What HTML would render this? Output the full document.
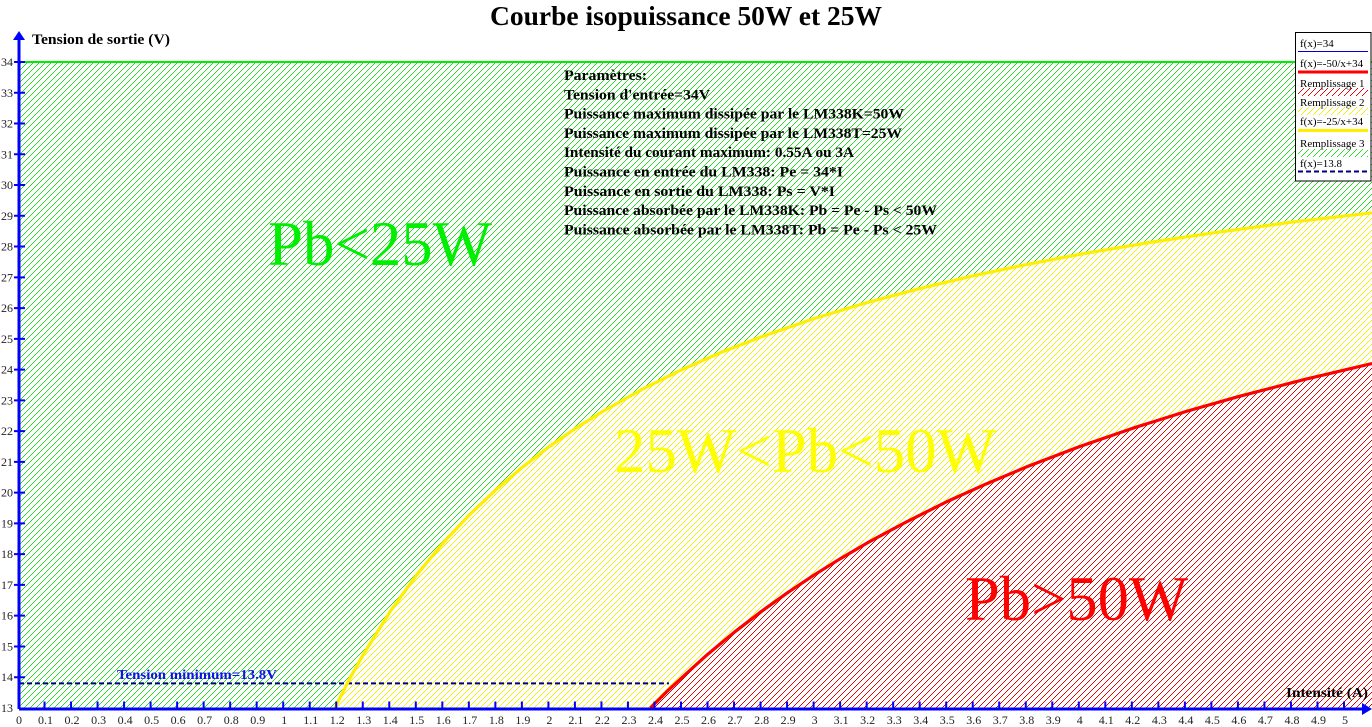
<!DOCTYPE html>
<html><head><meta charset="utf-8">
<style>
html,body{margin:0;padding:0;background:#fff;}
svg{display:block;}
text{font-family:"Liberation Serif","DejaVu Serif",serif;}
</style></head>
<body>
<svg width="1372" height="727" viewBox="0 0 1372 727" xmlns="http://www.w3.org/2000/svg">
<defs>
<pattern id="hg" x="0" y="0" width="6" height="6" patternUnits="userSpaceOnUse">
<rect x="0" y="5" width="1" height="1" fill="#22dd22"/><rect x="1" y="4" width="1" height="1" fill="#22dd22"/><rect x="2" y="3" width="1" height="1" fill="#22dd22"/><rect x="3" y="2" width="1" height="1" fill="#22dd22"/><rect x="4" y="1" width="1" height="1" fill="#22dd22"/><rect x="5" y="0" width="1" height="1" fill="#22dd22"/>
</pattern>
<pattern id="hy" x="0" y="0" width="6" height="6" patternUnits="userSpaceOnUse">
<rect x="0" y="5" width="1" height="1" fill="#f0f000"/><rect x="1" y="4" width="1" height="1" fill="#f0f000"/><rect x="2" y="3" width="1" height="1" fill="#f0f000"/><rect x="3" y="2" width="1" height="1" fill="#f0f000"/><rect x="4" y="1" width="1" height="1" fill="#f0f000"/><rect x="5" y="0" width="1" height="1" fill="#f0f000"/>
</pattern>
<pattern id="hr" x="0" y="0" width="6" height="6" patternUnits="userSpaceOnUse">
<rect x="0" y="5" width="1" height="1" fill="#e00000"/><rect x="1" y="4" width="1" height="1" fill="#e00000"/><rect x="2" y="3" width="1" height="1" fill="#e00000"/><rect x="3" y="2" width="1" height="1" fill="#e00000"/><rect x="4" y="1" width="1" height="1" fill="#e00000"/><rect x="5" y="0" width="1" height="1" fill="#e00000"/>
</pattern>
</defs>

<!-- hatched regions -->
<rect x="19" y="62" width="1353" height="646" fill="url(#hg)"/>
<path d="M334.7,708 L350.5,677.2 L363.8,653.6 L390.3,611.3 L416.8,574.7 L443.3,542.7 L469.8,514.4 L496.4,489.3 L522.9,466.8 L549.4,446.5 L575.9,428.1 L602.4,411.6 L642.2,389.3 L682,369.6 L721.8,352.1 L761.6,336.7 L814.6,318.4 L867.6,302.4 L920.7,288.3 L973.7,275.7 L1026.8,264.4 L1079.8,254.3 L1146.1,243.0 L1212.4,232.9 L1292,222.1 L1372,212.8 L1372,708 Z" fill="#ffffff"/>
<path d="M334.7,708 L350.5,677.2 L363.8,653.6 L390.3,611.3 L416.8,574.7 L443.3,542.7 L469.8,514.4 L496.4,489.3 L522.9,466.8 L549.4,446.5 L575.9,428.1 L602.4,411.6 L642.2,389.3 L682,369.6 L721.8,352.1 L761.6,336.7 L814.6,318.4 L867.6,302.4 L920.7,288.3 L973.7,275.7 L1026.8,264.4 L1079.8,254.3 L1146.1,243.0 L1212.4,232.9 L1292,222.1 L1372,212.8 L1372,708 Z" fill="url(#hy)"/>
<path d="M650.4,708 L668.7,689.8 L688.6,671.5 L708.5,653.6 L735,631.7 L761.6,611.3 L788.1,592.3 L814.6,574.7 L841.1,558.2 L867.6,542.7 L907.4,521.4 L947.2,501.5 L987,483.6 L1026.8,466.8 L1079.8,446.5 L1132.8,428.2 L1185.9,411.5 L1238.9,396.4 L1305.2,379.3 L1372,363.5 L1372,708 Z" fill="#ffffff"/>
<path d="M650.4,708 L668.7,689.8 L688.6,671.5 L708.5,653.6 L735,631.7 L761.6,611.3 L788.1,592.3 L814.6,574.7 L841.1,558.2 L867.6,542.7 L907.4,521.4 L947.2,501.5 L987,483.6 L1026.8,466.8 L1079.8,446.5 L1132.8,428.2 L1185.9,411.5 L1238.9,396.4 L1305.2,379.3 L1372,363.5 L1372,708 Z" fill="url(#hr)"/>

<!-- 13.8 dashed line -->
<line x1="19" y1="683.4" x2="669" y2="683.4" stroke="#000080" stroke-width="2" stroke-dasharray="5 3"/>
<text x="117" y="679" font-size="13.5" font-weight="bold" fill="#1010ee" textLength="160" lengthAdjust="spacingAndGlyphs">Tension minimum=13.8V</text>

<!-- curves -->
<polyline fill="none" stroke="#ffee00" stroke-width="3.2" stroke-linejoin="round" points="334.7,708 350.5,677.2 363.8,653.6 390.3,611.3 416.8,574.7 443.3,542.7 469.8,514.4 496.4,489.3 522.9,466.8 549.4,446.5 575.9,428.1 602.4,411.6 642.2,389.3 682,369.6 721.8,352.1 761.6,336.7 814.6,318.4 867.6,302.4 920.7,288.3 973.7,275.7 1026.8,264.4 1079.8,254.3 1146.1,243.0 1212.4,232.9 1292,222.1 1372,212.8"/>
<polyline fill="none" stroke="#ff0000" stroke-width="3.2" stroke-linejoin="round" points="650.4,708 668.7,689.8 688.6,671.5 708.5,653.6 735,631.7 761.6,611.3 788.1,592.3 814.6,574.7 841.1,558.2 867.6,542.7 907.4,521.4 947.2,501.5 987,483.6 1026.8,466.8 1079.8,446.5 1132.8,428.2 1185.9,411.5 1238.9,396.4 1305.2,379.3 1372,363.5"/>

<!-- green line f(x)=34 -->
<line x1="19" y1="62" x2="1372" y2="62" stroke="#00ee00" stroke-width="2"/>

<!-- axes -->
<line x1="19" y1="709" x2="1365" y2="709" stroke="#0000ff" stroke-width="3"/>
<polygon points="1372,709 1362,703 1362,715" fill="#0000ff"/>
<line x1="19" y1="709" x2="19" y2="38" stroke="#0000ff" stroke-width="3"/>
<polygon points="19,31 13,40 25,40" fill="#0000ff"/>
<!-- x ticks -->
<line x1="43.52" y1="705" x2="1347" y2="705" stroke="#0000ff" stroke-width="7" stroke-dasharray="2 24.52"/>
<!-- y ticks -->
<line x1="19.5" y1="61" x2="19.5" y2="680" stroke="#0000ff" stroke-width="11" stroke-dasharray="2 28.76"/>

<!-- y tick labels -->
<g font-size="12" fill="#222" text-anchor="end">
<text x="13" y="712">13</text>
<text x="13" y="681.2">14</text>
<text x="13" y="650.5">15</text>
<text x="13" y="619.7">16</text>
<text x="13" y="589">17</text>
<text x="13" y="558.2">18</text>
<text x="13" y="527.4">19</text>
<text x="13" y="496.7">20</text>
<text x="13" y="465.9">21</text>
<text x="13" y="435.2">22</text>
<text x="13" y="404.4">23</text>
<text x="13" y="373.6">24</text>
<text x="13" y="342.9">25</text>
<text x="13" y="312.1">26</text>
<text x="13" y="281.4">27</text>
<text x="13" y="250.6">28</text>
<text x="13" y="219.8">29</text>
<text x="13" y="189.1">30</text>
<text x="13" y="158.3">31</text>
<text x="13" y="127.6">32</text>
<text x="13" y="96.8">33</text>
<text x="13" y="66">34</text>
</g>

<!-- x tick labels -->
<g font-size="12" fill="#222" text-anchor="middle">
<text x="19" y="724">0</text>
<text x="45.5" y="724">0.1</text>
<text x="72" y="724">0.2</text>
<text x="98.6" y="724">0.3</text>
<text x="125.1" y="724">0.4</text>
<text x="151.6" y="724">0.5</text>
<text x="178.1" y="724">0.6</text>
<text x="204.6" y="724">0.7</text>
<text x="231.2" y="724">0.8</text>
<text x="257.7" y="724">0.9</text>
<text x="284.2" y="724">1</text>
<text x="310.7" y="724">1.1</text>
<text x="337.2" y="724">1.2</text>
<text x="363.8" y="724">1.3</text>
<text x="390.3" y="724">1.4</text>
<text x="416.8" y="724">1.5</text>
<text x="443.3" y="724">1.6</text>
<text x="469.8" y="724">1.7</text>
<text x="496.4" y="724">1.8</text>
<text x="522.9" y="724">1.9</text>
<text x="549.4" y="724">2</text>
<text x="575.9" y="724">2.1</text>
<text x="602.4" y="724">2.2</text>
<text x="629" y="724">2.3</text>
<text x="655.5" y="724">2.4</text>
<text x="682" y="724">2.5</text>
<text x="708.5" y="724">2.6</text>
<text x="735" y="724">2.7</text>
<text x="761.6" y="724">2.8</text>
<text x="788.1" y="724">2.9</text>
<text x="814.6" y="724">3</text>
<text x="841.1" y="724">3.1</text>
<text x="867.6" y="724">3.2</text>
<text x="894.2" y="724">3.3</text>
<text x="920.7" y="724">3.4</text>
<text x="947.2" y="724">3.5</text>
<text x="973.7" y="724">3.6</text>
<text x="1000.2" y="724">3.7</text>
<text x="1026.8" y="724">3.8</text>
<text x="1053.3" y="724">3.9</text>
<text x="1079.8" y="724">4</text>
<text x="1106.3" y="724">4.1</text>
<text x="1132.8" y="724">4.2</text>
<text x="1159.4" y="724">4.3</text>
<text x="1185.9" y="724">4.4</text>
<text x="1212.4" y="724">4.5</text>
<text x="1238.9" y="724">4.6</text>
<text x="1265.4" y="724">4.7</text>
<text x="1292" y="724">4.8</text>
<text x="1318.5" y="724">4.9</text>
<text x="1345" y="724">5</text>
</g>

<!-- axis labels and title -->
<text x="32" y="44" font-size="15" font-weight="bold" fill="#000" textLength="138" lengthAdjust="spacingAndGlyphs">Tension de sortie (V)</text>
<text x="1286" y="697" font-size="14" font-weight="bold" fill="#000" textLength="82" lengthAdjust="spacingAndGlyphs">Intensité (A)</text>
<text x="490" y="25" font-size="27" font-weight="bold" fill="#000" textLength="392" lengthAdjust="spacingAndGlyphs">Courbe isopuissance 50W et 25W</text>

<!-- parameters -->
<g font-size="15" font-weight="bold" fill="#000">
<text x="564" y="80" textLength="83" lengthAdjust="spacingAndGlyphs">Paramètres:</text>
<text x="564" y="99.3" textLength="146" lengthAdjust="spacingAndGlyphs">Tension d'entrée=34V</text>
<text x="564" y="118.6" textLength="340" lengthAdjust="spacingAndGlyphs">Puissance maximum dissipée par le LM338K=50W</text>
<text x="564" y="137.9" textLength="338" lengthAdjust="spacingAndGlyphs">Puissance maximum dissipée par le LM338T=25W</text>
<text x="564" y="157.2" textLength="290" lengthAdjust="spacingAndGlyphs">Intensité du courant maximum: 0.55A ou 3A</text>
<text x="564" y="176.5" textLength="279" lengthAdjust="spacingAndGlyphs">Puissance en entrée du LM338: Pe = 34*I</text>
<text x="564" y="195.8" textLength="271" lengthAdjust="spacingAndGlyphs">Puissance en sortie du LM338: Ps = V*I</text>
<text x="564" y="215.1" textLength="373" lengthAdjust="spacingAndGlyphs">Puissance absorbée par le LM338K: Pb = Pe - Ps &lt; 50W</text>
<text x="564" y="234.4" textLength="373" lengthAdjust="spacingAndGlyphs">Puissance absorbée par le LM338T: Pb = Pe - Ps &lt; 25W</text>
</g>

<!-- big labels -->
<text x="268" y="265" font-size="63" fill="#00ee00" textLength="224" lengthAdjust="spacingAndGlyphs">Pb&lt;25W</text>
<text x="614" y="472" font-size="63" fill="#ffff00" textLength="382" lengthAdjust="spacingAndGlyphs">25W&lt;Pb&lt;50W</text>
<text x="965" y="620" font-size="63" fill="#ff0000" textLength="223" lengthAdjust="spacingAndGlyphs">Pb&gt;50W</text>

<!-- legend -->
<rect x="1295.5" y="32.5" width="75.5" height="148.5" fill="#fff" stroke="#000" stroke-width="1"/>
<g font-size="11" fill="#000">
<text x="1300" y="47">f(x)=34</text>
<line x1="1298" y1="51.5" x2="1368" y2="51.5" stroke="#0000cc" stroke-width="1"/>
<text x="1300" y="67">f(x)=-50/x+34</text>
<line x1="1298" y1="72" x2="1368" y2="72" stroke="#ff0000" stroke-width="3"/>
<text x="1300" y="87">Remplissage 1</text>
<rect x="1298" y="88" width="70" height="8" fill="url(#hr)"/>
<text x="1300" y="106">Remplissage 2</text>
<rect x="1298" y="107" width="70" height="8" fill="url(#hy)"/>
<text x="1300" y="125">f(x)=-25/x+34</text>
<line x1="1298" y1="130.5" x2="1368" y2="130.5" stroke="#ffee00" stroke-width="3"/>
<text x="1300" y="147">Remplissage 3</text>
<rect x="1298" y="149" width="70" height="8" fill="url(#hg)"/>
<text x="1300" y="167">f(x)=13.8</text>
<line x1="1298" y1="171.5" x2="1368" y2="171.5" stroke="#000080" stroke-width="2" stroke-dasharray="5 3"/>
</g>
</svg>
</body></html>
